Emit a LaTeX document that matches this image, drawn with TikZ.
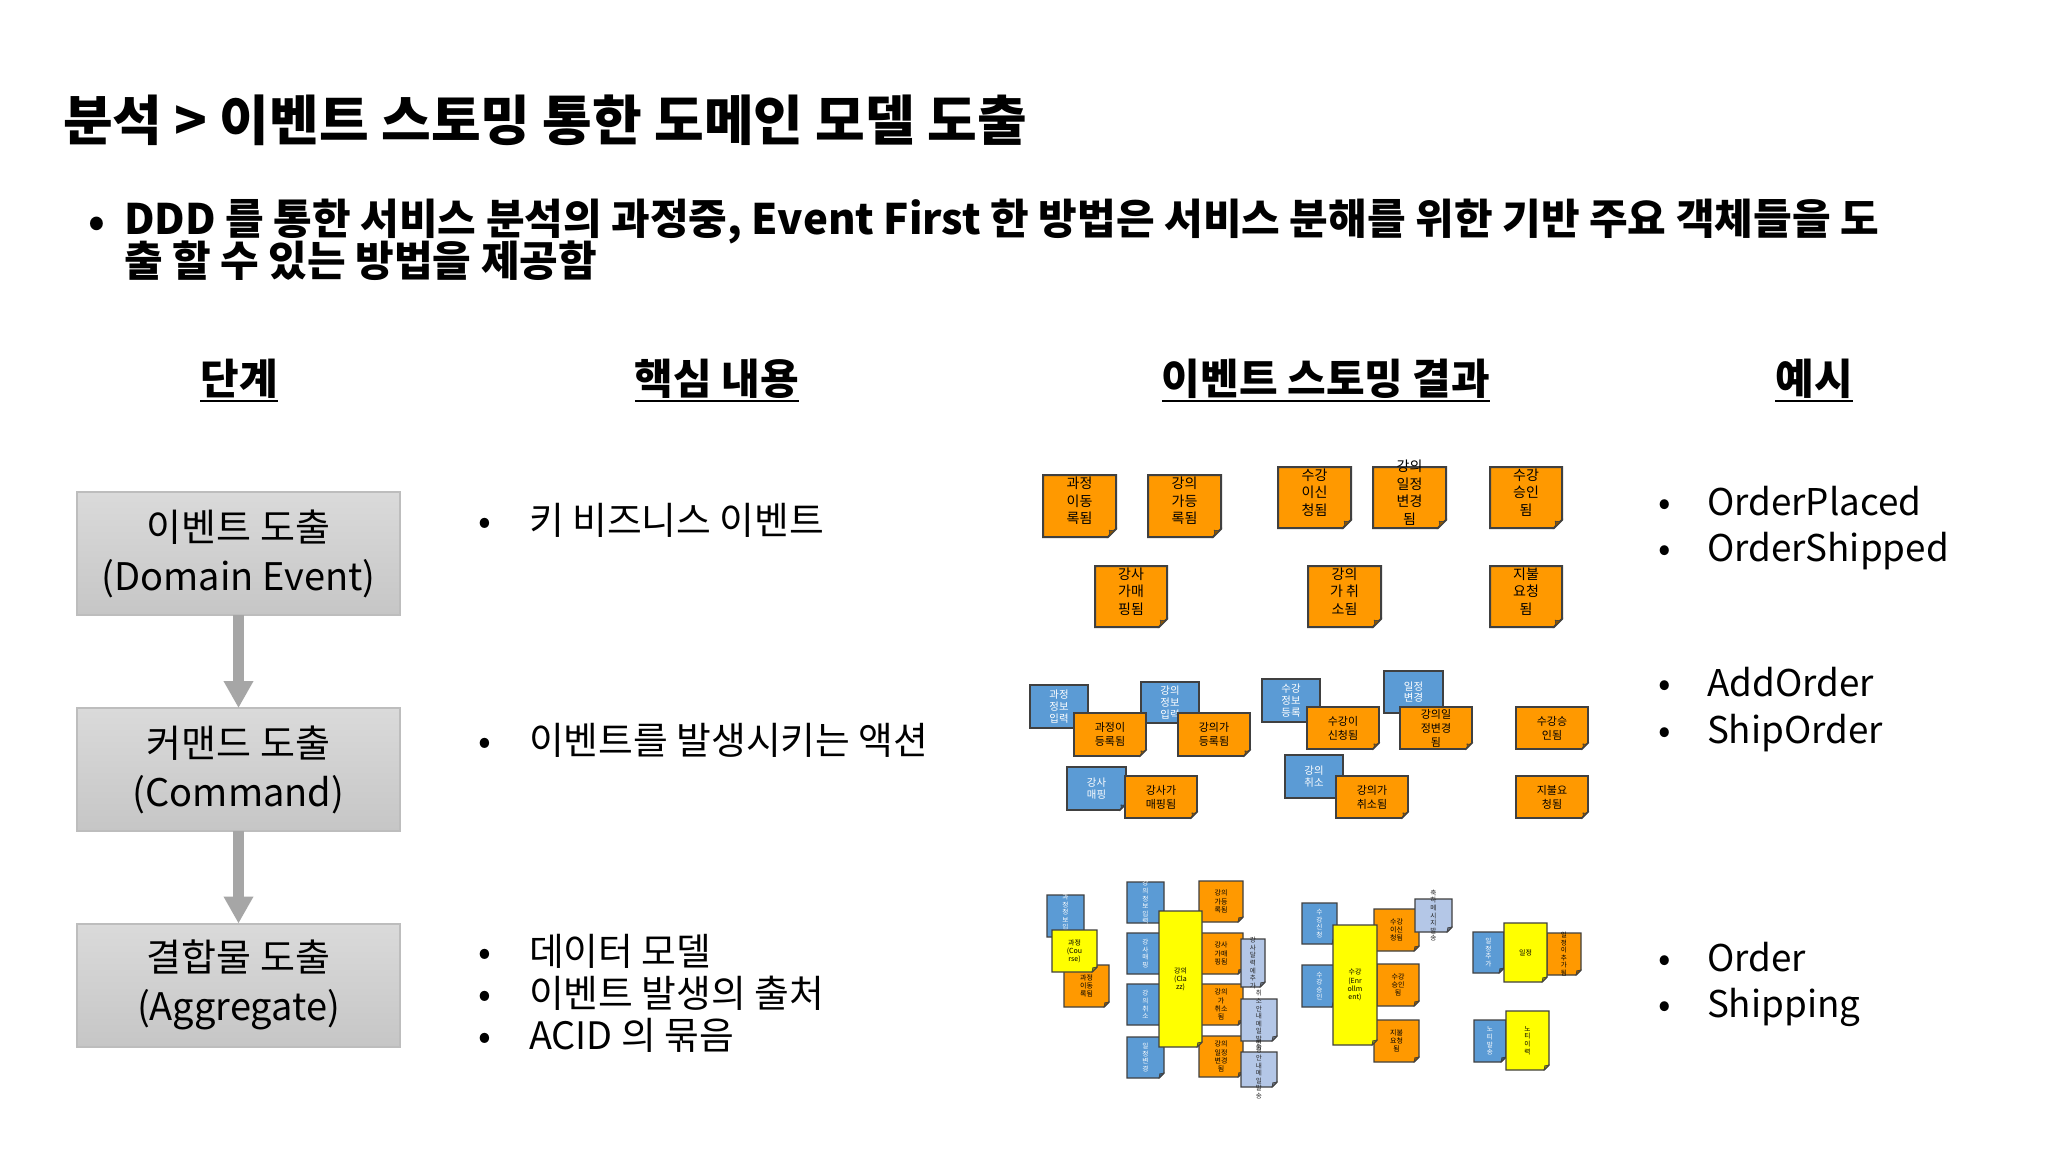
\documentclass[tikz,border=0pt]{standalone}
\usepackage{fontspec}
\setmainfont{Noto Sans CJK KR}
\usetikzlibrary{arrows.meta}
\definecolor{orn}{HTML}{FF9900}
\definecolor{blu}{HTML}{5B9BD5}
\definecolor{lblu}{HTML}{B4C7E7}
\definecolor{yel}{HTML}{FFFF00}
\definecolor{edge}{HTML}{404040}
\definecolor{stagetop}{HTML}{DADADA}
\definecolor{stagebot}{HTML}{C6C6C6}
\definecolor{stageedge}{HTML}{BDBDBD}
\definecolor{arrowgray}{HTML}{A6A6A6}
% sticky note: name, x1, y1, x2, y2, kind, font style, text
\newcommand\stick[8]{%
  \filldraw[#6] (#2,#3) -- (#4,#3) -- (#4,#5-\fd) -- (#4-\fd,#5) -- (#2,#5) -- cycle;
  \filldraw[#6 fold] (#4,#5-\fd) .. controls (#4-0.45*\fd,#5-0.75*\fd) .. (#4-0.85*\fd,#5-0.85*\fd)
     .. controls (#4-0.75*\fd,#5-0.45*\fd) .. (#4-\fd,#5) -- cycle;
  \node[#6 text, #7] (#1) at ({(#2+#4)/2},{(#3+#5)/2}) {#8};}
\tikzset{
  orn/.style={fill=orn, draw=edge},
  blu/.style={fill=blu, draw=edge},
  lb/.style={fill=lblu, draw=edge},
  yel/.style={fill=yel, draw=edge},
  orn fold/.style={fill=orn!55!black, draw=edge, line width=0.3pt},
  blu fold/.style={fill=blu!55!black, draw=edge, line width=0.3pt},
  lb fold/.style={fill=lblu!55!black, draw=edge, line width=0.3pt},
  yel fold/.style={fill=yel!55!black, draw=edge, line width=0.3pt},
  orn text/.style={text=black, align=center},
  blu text/.style={text=white, align=center},
  lb text/.style={text=black!85, align=center},
  yel text/.style={text=black, align=center},
  f1/.style={font=\fontsize{7}{8.8}\selectfont, yshift=2.5pt},
  f2/.style={font=\fontsize{5.5}{7}\selectfont},
  f2b/.style={font=\fontsize{5.2}{5.9}\selectfont},
  fh/.style={font=\fontsize{3.5}{4.1}\selectfont},
  fv/.style={font=\fontsize{3.3}{3.8}\selectfont},
  stage/.style={draw=stageedge, line width=1pt, top color=stagetop, bottom color=stagebot,
    minimum width=161.5pt, minimum height=61.5pt, align=center, font=\fontsize{19}{24.5}\selectfont},
  stagearrow/.style={draw=arrowgray, line width=5.5pt, -{Triangle[width=14pt,length=13.5pt]}},
  head/.style={font=\fontsize{21}{25}\selectfont\bfseries},
  uline/.style={line width=1.2pt, black},
  mid/.style={font=\fontsize{18.9}{22}\selectfont},
  ex/.style={font=\fontsize{18.4}{22}\selectfont},
  intro/.style={font=\fontsize{21}{25}\selectfont\bfseries},
}
\begin{document}
\begin{tikzpicture}[x=0.5pt,y=-0.5pt, every node/.style={inner sep=0pt, outer sep=0pt}]
\useasboundingbox[fill=white] (0,0) rectangle (2048,1152);

% title and intro
\node[anchor=west, font=\fontsize{27}{32}\selectfont\bfseries] (title) at (63,120) {분석 > 이벤트 스토밍 통한 도메인 모델 도출};
\node[intro, anchor=base] (bul) at (97,236) {•};
\node[intro, anchor=west] (l1) at (124,222) {DDD 를 통한 서비스 분석의 과정중, Event First 한 방법은 서비스 분해를 위한 기반 주요 객체들을 도};
\node[intro, anchor=west] (l2) at (124,261) {출 할 수 있는 방법을 제공함};

% headers
\node[head] (h1) at (239,379) {단계};
\node[head] (h2) at (717,379) {핵심 내용};
\node[head] (h3) at (1326,379) {이벤트 스토밍 결과};
\node[head] (h4) at (1814,379) {예시};
\foreach \h in {h1,h2,h3,h4}{\draw[uline] ([yshift=-3pt]\h.base west) -- ([yshift=-3pt]\h.base east);}

% stages
\node[stage] (s1) at (238.5,553.5) {이벤트 도출\\(Domain Event)};
\node[stage] (s2) at (238.5,769.5) {커맨드 도출\\(Command)};
\node[stage] (s3) at (238.5,985) {결합물 도출\\(Aggregate)};
\draw[stagearrow] (s1) -- (s2);
\draw[stagearrow] (s2) -- (s3);

% middle column
\node[mid, anchor=base] (m1b) at (485,534) {•};
\node[mid, anchor=base west] (m1) at (529,534) {키 비즈니스 이벤트};
\node[mid, anchor=base] (m2b) at (485,754) {•};
\node[mid, anchor=base west] (m2) at (529,754) {이벤트를 발생시키는 액션};
\node[mid, anchor=base] (m3b) at (485,965) {•};
\node[mid, anchor=base west] (m3) at (529,965) {데이터 모델};
\node[mid, anchor=base] (m4b) at (485,1007) {•};
\node[mid, anchor=base west] (m4) at (529,1007) {이벤트 발생의 출처};
\node[mid, anchor=base] (m5b) at (485,1049) {•};
\node[mid, anchor=base west] (m5) at (529,1049) {ACID 의 묶음};

% examples
\node[ex, anchor=base] (x1b) at (1665,515) {•};
\node[ex, anchor=base west] (x1) at (1707,515) {OrderPlaced};
\node[ex, anchor=base] (x2b) at (1665,561) {•};
\node[ex, anchor=base west] (x2) at (1707,561) {OrderShipped};
\node[ex, anchor=base] (x3b) at (1665,696) {•};
\node[ex, anchor=base west] (x3) at (1707,696) {AddOrder};
\node[ex, anchor=base] (x4b) at (1665,743) {•};
\node[ex, anchor=base west] (x4) at (1707,743) {ShipOrder};
\node[ex, anchor=base] (x5b) at (1665,971) {•};
\node[ex, anchor=base west] (x5) at (1707,971) {Order};
\node[ex, anchor=base] (x6b) at (1665,1017) {•};
\node[ex, anchor=base west] (x6) at (1707,1017) {Shipping};

% row 1: domain events
\begin{scope}[line width=1pt]
\def\fd{8}
\stick{e1}{1043}{475}{1116}{537}{orn}{f1}{과정\\이동\\록됨}
\stick{e2}{1148}{475}{1221}{537}{orn}{f1}{강의\\가등\\록됨}
\stick{e3}{1278}{467}{1351}{528}{orn}{f1}{수강\\이신\\청됨}
\stick{e4}{1373}{467}{1446}{528}{orn}{f1}{강의\\일정\\변경\\됨}
\stick{e5}{1490}{467}{1562}{528}{orn}{f1}{수강\\승인\\됨}
\stick{e6}{1095}{566}{1167}{627}{orn}{f1}{강사\\가매\\핑됨}
\stick{e7}{1308}{566}{1381}{627}{orn}{f1}{강의\\가 취\\소됨}
\stick{e8}{1490}{566}{1562}{627}{orn}{f1}{지불\\요청\\됨}
\end{scope}

% row 2: commands
\begin{scope}[line width=0.85pt]
\def\fd{6}
\stick{c1}{1030}{685}{1088}{728}{blu}{f2b}{과정\\정보\\입력}
\stick{c2}{1141}{682}{1199}{723}{blu}{f2b}{강의\\정보\\입력}
\stick{c3}{1074}{713}{1146}{756}{orn}{f2}{과정이\\등록됨}
\stick{c4}{1178}{713}{1250}{756}{orn}{f2}{강의가\\등록됨}
\stick{c5}{1067}{767}{1126}{810}{blu}{f2b}{강사\\매핑}
\stick{c6}{1125}{776}{1197}{818}{orn}{f2}{강사가\\매핑됨}
\stick{c7}{1262}{679}{1320}{722}{blu}{f2b}{수강\\정보\\등록}
\stick{c8}{1307}{707}{1379}{749}{orn}{f2}{수강이\\신청됨}
\stick{c9}{1384}{671}{1443}{713}{blu}{f2b}{일정\\변경}
\stick{c10}{1400}{707}{1472}{749}{orn}{f2}{강의일\\정변경\\됨}
\stick{c11}{1285}{755}{1343}{798}{blu}{f2b}{강의\\취소}
\stick{c12}{1336}{776}{1408}{818}{orn}{f2}{강의가\\취소됨}
\stick{c13}{1516}{707}{1588}{749}{orn}{f2}{수강승\\인됨}
\stick{c14}{1516}{776}{1588}{818}{orn}{f2}{지불요\\청됨}
\end{scope}

% row 3: aggregates
\begin{scope}[line width=0.7pt]
\def\fd{5}
\stick{a1}{1047}{895}{1084}{937}{blu}{fv}{과\\정\\정\\보\\입\\력}
\stick{a2}{1064}{965}{1109}{1007}{orn}{fh}{과정\\이동\\록됨}
\stick{a3}{1052}{930}{1097}{972}{yel}{fh}{과정\\(Cou\\rse)}
\stick{a4}{1127}{882}{1164}{923}{blu}{fv}{강\\의\\정\\보\\입\\력}
\stick{a5}{1127}{933}{1164}{974}{blu}{fv}{강\\사\\매\\핑}
\stick{a6}{1127}{984}{1164}{1025}{blu}{fv}{강\\의\\취\\소}
\stick{a7}{1127}{1037}{1164}{1078}{blu}{fv}{일\\정\\변\\경}
\stick{a8}{1199}{881}{1243}{922}{orn}{fh}{강의\\가등\\록됨}
\stick{a9}{1199}{933}{1243}{974}{orn}{fh}{강사\\가매\\핑됨}
\stick{a10}{1199}{984}{1243}{1025}{orn}{fh}{강의\\가\\취소\\됨}
\stick{a11}{1199}{1036}{1243}{1077}{orn}{fh}{강의\\일정\\변경\\됨}
\stick{a12}{1159}{911}{1202}{1047}{yel}{fh}{강의\\(Cla\\zz)}
\stick{a13}{1241}{939}{1265}{987}{lb}{fv}{강\\사\\달\\력\\에\\추\\가}
\stick{a14}{1241}{999}{1277}{1041}{lb}{fv}{취\\소\\안\\내\\메\\일\\발\\송}
\stick{a15}{1241}{1052}{1277}{1087}{lb}{fv}{변\\경\\안\\내\\메\\일\\발\\송}
\stick{a16}{1302}{903}{1337}{944}{blu}{fv}{수\\강\\신\\청}
\stick{a17}{1302}{965}{1337}{1007}{blu}{fv}{수\\강\\승\\인}
\stick{a18}{1374}{909}{1419}{951}{orn}{fh}{수강\\이신\\청됨}
\stick{a19}{1377}{964}{1419}{1006}{orn}{fh}{수강\\승인\\됨}
\stick{a20}{1374}{1020}{1419}{1062}{orn}{fh}{지불\\요청\\됨}
\stick{a21}{1333}{925}{1377}{1045}{yel}{fh}{수강\\(Enr\\ollm\\ent)}
\stick{a22}{1415}{899}{1452}{932}{lb}{fv}{축\\하\\메\\시\\지\\발\\송}
\stick{a23}{1473}{932}{1504}{973}{blu}{fv}{일\\정\\추\\가}
\stick{a24}{1547}{933}{1581}{975}{orn}{fv}{일\\정\\이\\추\\가\\됨}
\stick{a25}{1504}{923}{1547}{982}{yel}{fh}{일정}
\stick{a26}{1474}{1020}{1506}{1062}{blu}{fv}{노\\티\\발\\송}
\stick{a27}{1506}{1011}{1549}{1070}{yel}{fv}{노\\티\\이\\력}
\end{scope}
\end{tikzpicture}
\end{document}
